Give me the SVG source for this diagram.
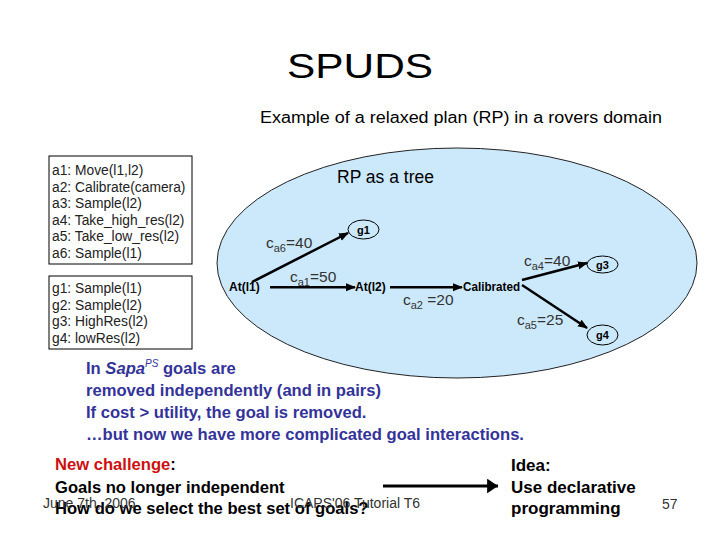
<svg xmlns="http://www.w3.org/2000/svg" width="720" height="540" viewBox="0 0 720 540">
<style>
text{font-family:"Liberation Sans",Arial,sans-serif}
.box{fill:#fff;stroke:#000;stroke-width:1}
.lst{font-size:13.8px;fill:#222}
.node{font-size:12px;font-weight:bold;fill:#000}
.goal{fill:none;stroke:#000;stroke-width:1}
.gl{font-size:11px;font-weight:bold;fill:#000;text-anchor:middle}
.lbl{font-size:15.5px;fill:#333}
.sub{font-size:11px}
.edge{stroke:#000;stroke-width:2.5;fill:none;marker-end:url(#ah)}
.blue{font-size:16.6px;font-weight:bold;fill:#333399}
.blk{font-size:16.6px;font-weight:bold;fill:#000}
.idea{font-size:17px;font-weight:bold;fill:#000}
.foot{font-size:14px;fill:#333}
</style>
<defs>
<marker id="ah" viewBox="0 0 10 10" refX="9" refY="5" markerWidth="4" markerHeight="4" markerUnits="strokeWidth" orient="auto">
<path d="M0,1 L10,5 L0,9 z" fill="#000"/>
</marker>
<marker id="bh" viewBox="0 0 10 10" refX="10" refY="5" markerWidth="3.4" markerHeight="4.6" markerUnits="strokeWidth" orient="auto" preserveAspectRatio="none">
<path d="M0,0 L10,5 L0,10 z" fill="#000"/>
</marker>
</defs>
<rect width="720" height="540" fill="#fff"/>
<g id="title">
<text x="287" y="78" font-size="35" textLength="146" lengthAdjust="spacingAndGlyphs" fill="#000">SPUDS</text>
<text x="260" y="123" font-size="16" textLength="402" lengthAdjust="spacingAndGlyphs" fill="#000">Example of a relaxed plan (RP) in a rovers domain</text>
</g>
<g id="actions">
<rect class="box" x="49" y="156" width="143" height="108"/>
<text class="lst" x="52" y="175">a1: Move(l1,l2)</text>
<text class="lst" x="52" y="191.5">a2: Calibrate(camera)</text>
<text class="lst" x="52" y="208">a3: Sample(l2)</text>
<text class="lst" x="52" y="224.5">a4: Take_high_res(l2)</text>
<text class="lst" x="52" y="241">a5: Take_low_res(l2)</text>
<text class="lst" x="52" y="257.5">a6: Sample(l1)</text>
</g>
<g id="goals">
<rect class="box" x="49" y="276" width="143" height="73"/>
<text class="lst" x="52" y="293">g1: Sample(l1)</text>
<text class="lst" x="52" y="309.5">g2: Sample(l2)</text>
<text class="lst" x="52" y="326">g3: HighRes(l2)</text>
<text class="lst" x="52" y="342.5">g4: lowRes(l2)</text>
</g>
<g id="rp-tree">
<ellipse cx="457" cy="263" rx="240" ry="115" fill="#cce9fb" stroke="#222" stroke-width="1"/>
<text x="337" y="183" font-size="17.5" fill="#000">RP as a tree</text>
</g>
<g id="n-atl1"><text class="node" x="229" y="291">At(l1)</text></g>
<g id="n-atl2"><text class="node" x="355" y="291">At(l2)</text></g>
<g id="n-calibrated"><text class="node" x="463" y="291" textLength="57" lengthAdjust="spacingAndGlyphs">Calibrated</text></g>
<g id="n-g1"><ellipse class="goal" cx="363.5" cy="229.5" rx="15.5" ry="9.5"/><text class="gl" x="363.5" y="233.5">g1</text></g>
<g id="n-g3"><ellipse class="goal" cx="602.5" cy="264.5" rx="15.5" ry="8.5"/><text class="gl" x="602.5" y="268.5">g3</text></g>
<g id="n-g4"><ellipse class="goal" cx="602.5" cy="335" rx="15.5" ry="10"/><text class="gl" x="602.5" y="339">g4</text></g>
<g id="connectors">
<line class="edge" x1="252" y1="282" x2="348" y2="233"/>
<line class="edge" x1="270" y1="287.3" x2="355" y2="287.3" stroke-width="2"/>
<line class="edge" x1="390" y1="287.3" x2="462" y2="287.3" stroke-width="2"/>
<line class="edge" x1="522" y1="280" x2="587" y2="263"/>
<line class="edge" x1="522" y1="285" x2="587" y2="328"/>
<line x1="383" y1="486" x2="498" y2="486" stroke="#000" stroke-width="3.2" marker-end="url(#bh)"/>
</g>
<g id="edge-labels">
<text class="lbl" x="266" y="248">c<tspan class="sub" dy="4">a6</tspan><tspan dy="-4">=40</tspan></text>
<text class="lbl" x="290" y="282">c<tspan class="sub" dy="4">a1</tspan><tspan dy="-4">=50</tspan></text>
<text class="lbl" x="403" y="305">c<tspan class="sub" dy="4">a2</tspan><tspan dy="-4"> =20</tspan></text>
<text class="lbl" x="524" y="266">c<tspan class="sub" dy="4">a4</tspan><tspan dy="-4">=40</tspan></text>
<text class="lbl" x="517" y="325">c<tspan class="sub" dy="4">a5</tspan><tspan dy="-4">=25</tspan></text>
</g>
<g id="sapa-text">
<text class="blue" x="86" y="374">In <tspan font-style="italic">Sapa</tspan><tspan font-size="10" font-weight="normal" font-style="italic" dy="-7">PS</tspan><tspan dy="7"> goals are</tspan></text>
<text class="blue" x="86" y="396">removed independently (and in pairs)</text>
<text class="blue" x="86" y="418">If cost &gt; utility, the goal is removed.</text>
<text class="blue" x="86" y="440">…but now we have more complicated goal interactions.</text>
</g>
<g id="challenge">
<text class="blk" x="55" y="470"><tspan fill="#cc1111">New challenge</tspan>:</text>
<text class="blk" x="55" y="493">Goals no longer independent</text>
<text class="blk" x="55" y="514">How do we select the best set of goals?</text>
</g>
<g id="idea">
<text class="idea" x="511" y="471">Idea:</text>
<text class="idea" x="511" y="493">Use declarative</text>
<text class="idea" x="511" y="514">programming</text>
</g>
<g id="footer">
<text class="foot" x="43" y="508">June 7th, 2006</text>
<text class="foot" x="290" y="508">ICAPS'06 Tutorial T6</text>
<text class="foot" x="662" y="509" font-size="13">57</text>
</g>
</svg>
